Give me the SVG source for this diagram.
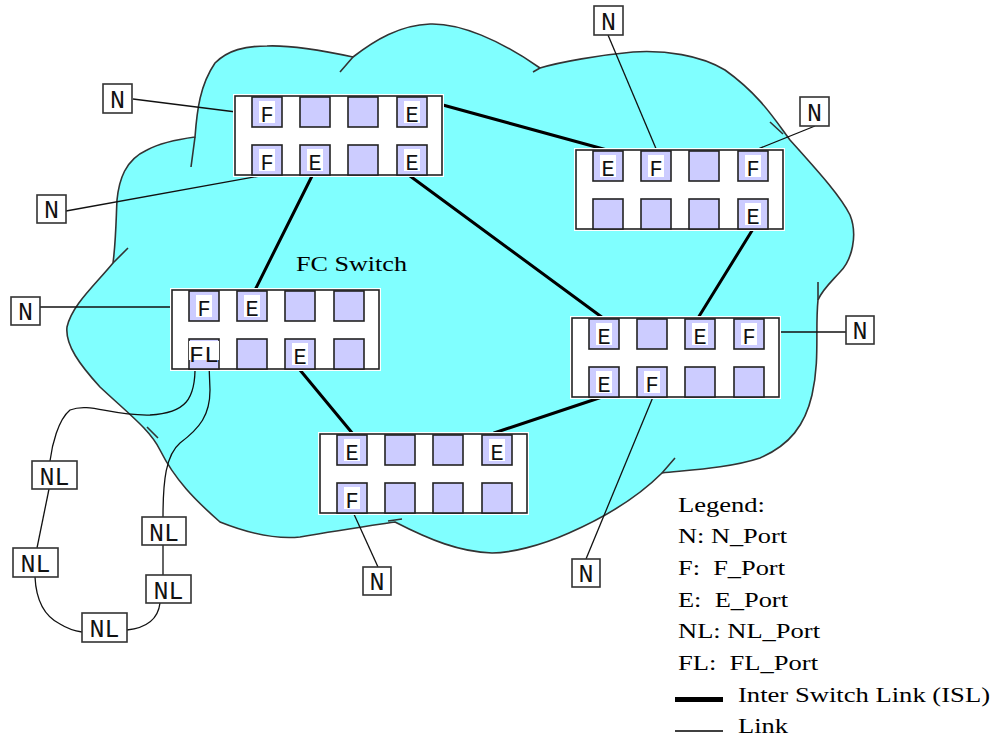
<svg xmlns="http://www.w3.org/2000/svg" width="996" height="740" viewBox="0 0 996 740">
<style>
.halo{fill:#fff}
.sw{fill:#fff;stroke:#222;stroke-width:1.6}
.port{fill:#ccccff;stroke:#222;stroke-width:1.6}
.lbg{fill:#fff}
.pl{font-family:"Liberation Mono",monospace;font-size:22px;text-anchor:middle;fill:#111}
.nbox{fill:#fff;stroke:#333;stroke-width:1.6}
.nt{font-family:"Liberation Mono",monospace;font-size:25px;text-anchor:middle;fill:#111}
.isl{stroke:#000;stroke-width:3;fill:none;stroke-linecap:round}
.lnk{stroke:#111;stroke-width:1.3;fill:none}
.cloud{fill:#80ffff;stroke:#333;stroke-width:1.6;stroke-linejoin:round}
.notch{fill:none;stroke:#333;stroke-width:1.6}
.lg{font-family:"Liberation Serif",serif;font-size:20px;fill:#000;white-space:pre}
</style>

<g id="cloud">
<path class="cloud" d="M117,200 C119,180 125,160 147,150 C160,143 180,139 195,137 C197,110 200,85 215,63 C228,50 245,46 267,46 C290,45 320,50 353,57 C375,40 400,25 430,24 C460,23 500,40 540,68 C560,62 600,55 633,52 C665,50 700,55 725,70 C760,95 775,120 790,140 C815,168 840,195 850,215 C858,235 852,260 840,272 C830,283 822,290 818,300 C815,330 820,360 812,395 C805,425 790,445 760,458 C730,468 690,470 662,473 C640,495 610,515 569,533 C540,546 510,553 492,553 C460,552 430,540 395,522 C375,525 340,530 300,537 C270,540 240,530 220,522 C195,500 175,480 160,450 C150,430 130,415 100,387 C80,365 65,345 67,327 C72,305 95,285 113,263 C116,240 116,220 117,200 Z"/>
<path class="notch" d="M195,137 L191,167 M353,57 L340,72 M540,68 L533,72 M770,122 L783,134 M818,300 L818,282 M662,473 L675,458 M388,521 L402,519 M147,427 L158,438 M113,263 L128,248"/>
</g>

<text class="lg" x="296" y="271" textLength="111" lengthAdjust="spacingAndGlyphs">FC Switch</text>

<g id="connectors">
<line class="isl" x1="410" y1="96" x2="607" y2="150"/>
<line class="isl" x1="313" y1="174" x2="255" y2="290"/>
<line class="isl" x1="410" y1="176" x2="603" y2="318"/>
<line class="isl" x1="753" y1="229" x2="698" y2="318"/>
<line class="isl" x1="602" y1="397" x2="494" y2="433"/>
<line class="isl" x1="300" y1="370" x2="353" y2="434"/>
<line class="lnk" x1="133" y1="99" x2="252" y2="114"/>
<line class="lnk" x1="66" y1="211" x2="265" y2="175"/>
<line class="lnk" x1="40" y1="307" x2="191" y2="307"/>
<line class="lnk" x1="608" y1="35" x2="657" y2="151"/>
<line class="lnk" x1="815" y1="126" x2="753" y2="151"/>
<line class="lnk" x1="763" y1="332" x2="846" y2="332"/>
<line class="lnk" x1="653" y1="397" x2="586" y2="559"/>
<line class="lnk" x1="353" y1="512" x2="378" y2="567"/>
<path class="lnk" d="M195,364 C196,400 185,413 150,415 C110,416 90,402 70,410 C58,420 52,445 50,461"/>
<path class="lnk" d="M49,489 L37,548"/>
<path class="lnk" d="M35,577 C36,598 42,615 60,624 C68,629 75,631 82,632"/>
<path class="lnk" d="M127,630 C145,628 158,620 160,603"/>
<path class="lnk" d="M163,575 L163,545"/>
<path class="lnk" d="M163,517 C163,480 166,455 180,443 C200,428 210,415 210,390 L209,364"/>
</g>

<g id="switch1">
<rect class="halo" x="233" y="94" width="211" height="83"/>
<rect class="sw" x="235" y="96" width="207" height="79"/>
<rect class="port" x="252" y="97" width="30" height="30"/><rect class="lbg" x="259" y="101" width="16" height="22"/><text class="pl" x="267" y="122">F</text>
<rect class="port" x="300" y="97" width="30" height="30"/>
<rect class="port" x="348" y="97" width="30" height="30"/>
<rect class="port" x="397" y="97" width="30" height="30"/><rect class="lbg" x="404" y="101" width="16" height="22"/><text class="pl" x="412" y="122">E</text>
<rect class="port" x="252" y="145" width="30" height="30"/><rect class="lbg" x="259" y="149" width="16" height="22"/><text class="pl" x="267" y="170">F</text>
<rect class="port" x="300" y="145" width="30" height="30"/><rect class="lbg" x="307" y="149" width="16" height="22"/><text class="pl" x="315" y="170">E</text>
<rect class="port" x="348" y="145" width="30" height="30"/>
<rect class="port" x="397" y="145" width="30" height="30"/><rect class="lbg" x="404" y="149" width="16" height="22"/><text class="pl" x="412" y="170">E</text>
</g>

<g id="switch2">
<rect class="halo" x="574" y="148" width="211" height="83"/>
<rect class="sw" x="576" y="150" width="207" height="79"/>
<rect class="port" x="593" y="151" width="30" height="30"/><rect class="lbg" x="600" y="155" width="16" height="22"/><text class="pl" x="608" y="176">E</text>
<rect class="port" x="641" y="151" width="30" height="30"/><rect class="lbg" x="648" y="155" width="16" height="22"/><text class="pl" x="656" y="176">F</text>
<rect class="port" x="689" y="151" width="30" height="30"/>
<rect class="port" x="738" y="151" width="30" height="30"/><rect class="lbg" x="745" y="155" width="16" height="22"/><text class="pl" x="753" y="176">F</text>
<rect class="port" x="593" y="199" width="30" height="30"/>
<rect class="port" x="641" y="199" width="30" height="30"/>
<rect class="port" x="689" y="199" width="30" height="30"/>
<rect class="port" x="738" y="199" width="30" height="30"/><rect class="lbg" x="745" y="203" width="16" height="22"/><text class="pl" x="753" y="224">E</text>
</g>

<g id="switch3">
<rect class="halo" x="170" y="288" width="211" height="83"/>
<rect class="sw" x="172" y="290" width="207" height="79"/>
<rect class="port" x="189" y="291" width="30" height="30"/><rect class="lbg" x="196" y="295" width="16" height="22"/><text class="pl" x="204" y="316">F</text>
<rect class="port" x="237" y="291" width="30" height="30"/><rect class="lbg" x="244" y="295" width="16" height="22"/><text class="pl" x="252" y="316">E</text>
<rect class="port" x="285" y="291" width="30" height="30"/>
<rect class="port" x="334" y="291" width="30" height="30"/>
<rect class="port" x="189" y="339" width="30" height="30"/><rect class="lbg" x="189" y="341" width="30" height="19"/><text class="pl" x="204" y="362" textLength="30" lengthAdjust="spacingAndGlyphs">FL</text>
<rect class="port" x="237" y="339" width="30" height="30"/>
<rect class="port" x="285" y="339" width="30" height="30"/><rect class="lbg" x="292" y="343" width="16" height="22"/><text class="pl" x="300" y="364">E</text>
<rect class="port" x="334" y="339" width="30" height="30"/>
</g>

<g id="switch4">
<rect class="halo" x="570" y="316" width="211" height="83"/>
<rect class="sw" x="572" y="318" width="207" height="79"/>
<rect class="port" x="589" y="319" width="30" height="30"/><rect class="lbg" x="596" y="323" width="16" height="22"/><text class="pl" x="604" y="344">E</text>
<rect class="port" x="637" y="319" width="30" height="30"/>
<rect class="port" x="685" y="319" width="30" height="30"/><rect class="lbg" x="692" y="323" width="16" height="22"/><text class="pl" x="700" y="344">E</text>
<rect class="port" x="734" y="319" width="30" height="30"/><rect class="lbg" x="741" y="323" width="16" height="22"/><text class="pl" x="749" y="344">F</text>
<rect class="port" x="589" y="367" width="30" height="30"/><rect class="lbg" x="596" y="371" width="16" height="22"/><text class="pl" x="604" y="392">E</text>
<rect class="port" x="637" y="367" width="30" height="30"/><rect class="lbg" x="644" y="371" width="16" height="22"/><text class="pl" x="652" y="392">F</text>
<rect class="port" x="685" y="367" width="30" height="30"/>
<rect class="port" x="734" y="367" width="30" height="30"/>
</g>

<g id="switch5">
<rect class="halo" x="318" y="432" width="211" height="83"/>
<rect class="sw" x="320" y="434" width="207" height="79"/>
<rect class="port" x="337" y="435" width="30" height="30"/><rect class="lbg" x="344" y="439" width="16" height="22"/><text class="pl" x="352" y="460">E</text>
<rect class="port" x="385" y="435" width="30" height="30"/>
<rect class="port" x="433" y="435" width="30" height="30"/>
<rect class="port" x="482" y="435" width="30" height="30"/><rect class="lbg" x="489" y="439" width="16" height="22"/><text class="pl" x="497" y="460">E</text>
<rect class="port" x="337" y="483" width="30" height="30"/><rect class="lbg" x="344" y="487" width="16" height="22"/><text class="pl" x="352" y="508">F</text>
<rect class="port" x="385" y="483" width="30" height="30"/>
<rect class="port" x="433" y="483" width="30" height="30"/>
<rect class="port" x="482" y="483" width="30" height="30"/>
</g>

<g id="n1"><rect class="nbox" x="103" y="84" width="29" height="29"/><text class="nt" x="117.5" y="108">N</text></g>
<g id="n2"><rect class="nbox" x="37" y="195" width="29" height="28"/><text class="nt" x="51.5" y="218">N</text></g>
<g id="n3"><rect class="nbox" x="11" y="297" width="29" height="28"/><text class="nt" x="25.5" y="320">N</text></g>
<g id="n4"><rect class="nbox" x="594" y="6" width="29" height="29"/><text class="nt" x="608.5" y="30">N</text></g>
<g id="n5"><rect class="nbox" x="800" y="97" width="29" height="29"/><text class="nt" x="814.5" y="121">N</text></g>
<g id="n6"><rect class="nbox" x="846" y="316" width="28" height="28"/><text class="nt" x="860" y="339">N</text></g>
<g id="n7"><rect class="nbox" x="572" y="559" width="28" height="28"/><text class="nt" x="586" y="582">N</text></g>
<g id="n8"><rect class="nbox" x="363" y="567" width="28" height="28"/><text class="nt" x="377" y="590">N</text></g>

<g id="nl1"><rect class="nbox" x="32" y="461" width="45" height="28"/><text class="nt" x="54.5" y="485">NL</text></g>
<g id="nl2"><rect class="nbox" x="13" y="548" width="45" height="29"/><text class="nt" x="35.5" y="572">NL</text></g>
<g id="nl3"><rect class="nbox" x="82" y="613" width="45" height="29"/><text class="nt" x="104.5" y="637">NL</text></g>
<g id="nl4"><rect class="nbox" x="146" y="575" width="45" height="28"/><text class="nt" x="168.5" y="599">NL</text></g>
<g id="nl5"><rect class="nbox" x="142" y="517" width="44" height="28"/><text class="nt" x="164" y="541">NL</text></g>

<g id="legend">
<text class="lg" x="678" y="512" textLength="87" lengthAdjust="spacingAndGlyphs">Legend:</text>
<text class="lg" x="678" y="543" textLength="109" lengthAdjust="spacingAndGlyphs">N: N_Port</text>
<text class="lg" x="678" y="575" textLength="107" lengthAdjust="spacingAndGlyphs">F:  F_Port</text>
<text class="lg" x="678" y="607" textLength="110" lengthAdjust="spacingAndGlyphs">E:  E_Port</text>
<text class="lg" x="678" y="638" textLength="142" lengthAdjust="spacingAndGlyphs">NL: NL_Port</text>
<text class="lg" x="678" y="670" textLength="140" lengthAdjust="spacingAndGlyphs">FL:  FL_Port</text>
<rect x="675" y="697" width="48" height="5" fill="#000"/>
<text class="lg" x="738" y="702" textLength="252" lengthAdjust="spacingAndGlyphs">Inter Switch Link (ISL)</text>
<line x1="675" y1="731" x2="723" y2="731" stroke="#000" stroke-width="1.5"/>
<text class="lg" x="738" y="733" textLength="50" lengthAdjust="spacingAndGlyphs">Link</text>
</g>
</svg>
